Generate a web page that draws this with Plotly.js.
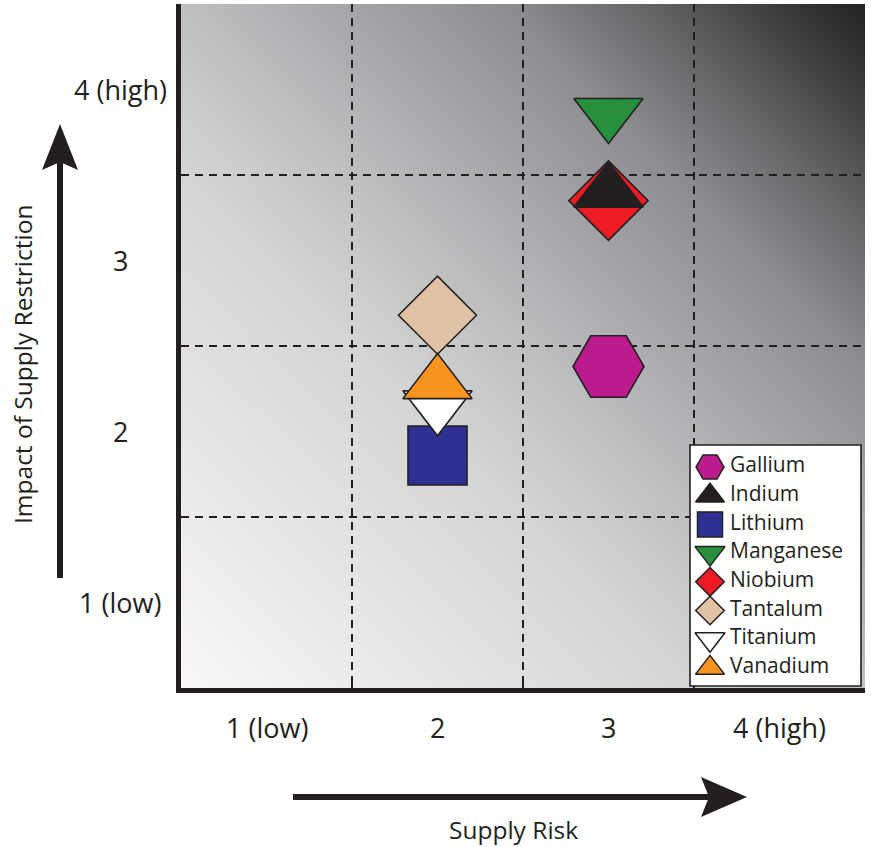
<!DOCTYPE html>
<html><head><meta charset="utf-8">
<script src="https://cdn.plot.ly/plotly-3.0.1.min.js"></script>
<style>html,body{margin:0;padding:0;background:#fff}#chart{width:871px;height:847px}</style>
</head><body><div id="chart"></div>
<script>
// ---------- data ----------
const elements = ['Gallium','Indium','Lithium','Manganese','Niobium','Tantalum','Titanium','Vanadium'];
const supplyRisk = [3, 3, 2, 3, 3, 2, 2, 2];
const supplyImpact = [2.38, 3.40, 1.86, 3.86, 3.35, 2.68, 2.15, 2.28];
const tickValues = [1, 2, 3, 4];
const xTickLabels = ['1 (low)', '2', '3', '4 (high)'];
const yTickLabels = ['1 (low)', '2', '3', '4 (high)'];
const xTitle = 'Supply Risk';
const yTitle = 'Impact of Supply Restriction';

// ---------- styles ----------
const INK = '#231f20';
const FONT = '"Open Sans", "Noto Sans", sans-serif';
const style = {
  Gallium:   {symbol:'hexagon2',      color:'#bc1b8d', size:71, lsize:28},
  Indium:    {symbol:'triangle-up',   color:'#231f20', size:60, lsize:25},
  Lithium:   {symbol:'square',        color:'#2e3192', size:59, lsize:25},
  Manganese: {symbol:'triangle-down', color:'#27903d', size:60, lsize:26},
  Niobium:   {symbol:'diamond',       color:'#ed1c24', size:61, lsize:22},
  Tantalum:  {symbol:'diamond',       color:'#dfc2a4', size:60, lsize:22},
  Titanium:  {symbol:'triangle-down', color:'#ffffff', size:60, lsize:26},
  Vanadium:  {symbol:'triangle-up',   color:'#f7941d', size:60, lsize:25}
};
const drawOrder = ['Gallium','Lithium','Manganese','Niobium','Indium','Tantalum','Titanium','Vanadium'];

// plot-area geometry (pixels)
const PL = 181, PT = 4, PW = 684, PH = 684;
const px = x => (x - PL) / PW;
const py = y => (PT + PH - y) / PH;

const bounds = tickValues.slice(1).map((v, i) => (v + tickValues[i]) / 2);
const axRange = [tickValues[0] - 0.5, tickValues[tickValues.length - 1] + 0.5];

// gradient background
const stops = [[0,'#f8f8f8'],[0.38,'#d3d4d5'],[0.5,'#bebfc1'],[0.74,'#8b8c8f'],[0.83,'#67686a'],[0.92,'#414143'],[1,'#222222']]
  .map(s => `<stop offset="${s[0]}" stop-color="${s[1]}"/>`).join('');
const svg = `<svg xmlns="http://www.w3.org/2000/svg" width="200" height="200" viewBox="0 0 200 200" preserveAspectRatio="none"><defs><linearGradient id="g" x1="0" y1="1" x2="1" y2="0">${stops}</linearGradient></defs><rect width="200" height="200" fill="url(#g)"/></svg>`;
const gradURI = 'data:image/svg+xml;charset=utf-8,' + encodeURIComponent(svg);

// ---------- traces ----------
const traces = drawOrder.map(name => {
  const i = elements.indexOf(name);
  const s = style[name];
  return {
    type:'scatter', mode:'markers', name:name, showlegend:false, hoverinfo:'name',
    x:[supplyRisk[i]], y:[supplyImpact[i]], xaxis:'x', yaxis:'y', cliponaxis:false,
    marker:{symbol:s.symbol, color:s.color, size:s.size, opacity:1, line:{color:INK, width:1.6}}
  };
});

// custom legend (drawn in its own small subplot)
const LEG_MX = 24, LEG_TX = 44;
traces.push({
  type:'scatter', mode:'markers', showlegend:false, hoverinfo:'skip',
  x: elements.map(() => LEG_MX), y: elements.map((_, i) => i), xaxis:'x2', yaxis:'y2', cliponaxis:false,
  marker:{symbol: elements.map(n => style[n].symbol), color: elements.map(n => style[n].color), opacity:1,
          size: elements.map(n => style[n].lsize), line:{color:INK, width:1.5}}
});
traces.push({
  type:'scatter', mode:'text', showlegend:false, hoverinfo:'skip',
  x: elements.map(() => LEG_TX), y: elements.map((_, i) => i), xaxis:'x2', yaxis:'y2', cliponaxis:false,
  text: elements, textposition:'middle right', textfont:{family:FONT, size:21, color:INK}
});

// ---------- layout ----------
const minorCfg = {tickmode:'array', tickvals:bounds, ticks:'inside', ticklen:8, tickwidth:1.5, tickcolor:INK,
                  showgrid:true, gridcolor:INK, gridwidth:1.3, griddash:'8px,6px'};
const annotations = [];
tickValues.forEach((v, i) => {
  annotations.push({xref:'paper', x:px(120), yref:'y', y:v, text:yTickLabels[i], showarrow:false,
                    xanchor:'center', yanchor:'middle', font:{family:FONT, size:27, color:INK}});
  annotations.push({xref:'x', x:v, yref:'paper', y:py(727), text:xTickLabels[i], showarrow:false,
                    xanchor:'center', yanchor:'middle', font:{family:FONT, size:27, color:INK}});
});
annotations.push({xref:'paper', x:px(513), yref:'paper', y:py(830), text:xTitle, showarrow:false,
                  xanchor:'center', yanchor:'middle', font:{family:FONT, size:24.5, color:INK}});
annotations.push({xref:'paper', x:px(22), yref:'paper', y:py(365), text:yTitle, showarrow:false, textangle:-90,
                  xanchor:'center', yanchor:'middle', font:{family:FONT, size:24.5, color:INK}});

const legPx = {l:686, r:865, t:441, b:688};
const legItem0 = 467, legStep = 28.7;
const toIdx = y => (y - legItem0) / legStep;

const shapes = [
  // legend box
  {type:'rect', xref:'x2', yref:'y2', x0:4, x1:175, y0:toIdx(445), y1:toIdx(686), layer:'below',
   fillcolor:'#ffffff', line:{color:INK, width:1.6}},
  // y arrow
  {type:'rect', xref:'paper', yref:'paper', x0:px(57), x1:px(63), y0:py(578), y1:py(160), fillcolor:INK, line:{width:0}},
  {type:'path', xref:'paper', yref:'paper', fillcolor:INK, line:{width:0},
   path:`M${px(60)},${py(124)} L${px(78)},${py(170)} L${px(60)},${py(162)} L${px(42)},${py(170)} Z`},
  // x arrow
  {type:'rect', xref:'paper', yref:'paper', x0:px(293), x1:px(712), y0:py(800), y1:py(794), fillcolor:INK, line:{width:0}},
  {type:'path', xref:'paper', yref:'paper', fillcolor:INK, line:{width:0},
   path:`M${px(747)},${py(797)} L${px(701)},${py(777)} L${px(709)},${py(797)} L${px(701)},${py(817)} Z`}
];

const layout = {
  width:871, height:847,
  margin:{l:PL, r:871 - PL - PW, t:PT, b:847 - PT - PH},
  paper_bgcolor:'#ffffff', plot_bgcolor:'rgba(0,0,0,0)',
  showlegend:false, hovermode:false,
  font:{family:FONT, color:INK},
  xaxis:{range:axRange, tickvals:tickValues, showticklabels:false, ticks:'', showgrid:false, zeroline:false,
         showline:true, linewidth:5, linecolor:INK, fixedrange:true, minor:minorCfg},
  yaxis:{range:axRange, tickvals:tickValues, showticklabels:false, ticks:'', showgrid:false, zeroline:false,
         showline:true, linewidth:5, linecolor:INK, fixedrange:true, minor:minorCfg},
  xaxis2:{domain:[px(legPx.l), px(legPx.r)], range:[0, legPx.r - legPx.l], visible:false, anchor:'y2', fixedrange:true},
  yaxis2:{domain:[py(legPx.b), py(legPx.t)], range:[toIdx(legPx.b), toIdx(legPx.t)], visible:false, anchor:'x2', fixedrange:true},
  images:[{source:gradURI, xref:'paper', yref:'paper', x:0, y:1, sizex:1, sizey:1, sizing:'stretch',
           xanchor:'left', yanchor:'top', layer:'below'}],
  shapes:shapes,
  annotations:annotations
};

Plotly.newPlot('chart', traces, layout, {displayModeBar:false, staticPlot:true});
</script>
</body></html>
